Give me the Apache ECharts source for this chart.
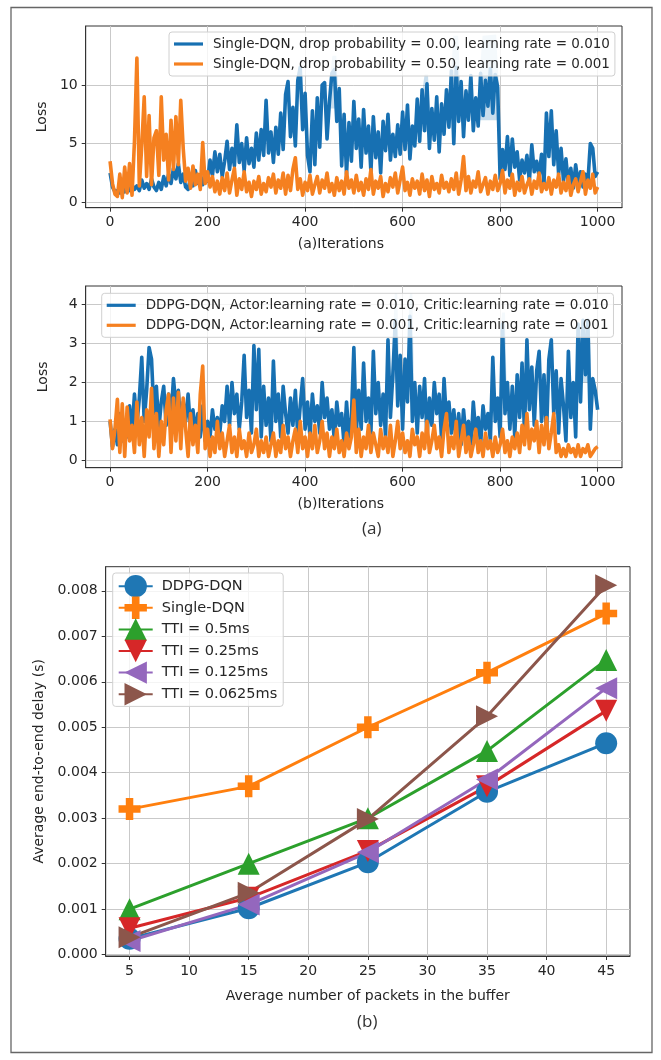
<!DOCTYPE html>
<html>
<head>
<meta charset="utf-8">
<script src="https://cdn.jsdelivr.net/npm/echarts@6/dist/echarts.min.js"></script>
<style>
html,body{margin:0;padding:0;background:#fff;}
#chart{width:661px;height:1060px;}
</style>
</head>
<body>
<div id="chart"></div>
<script>
// ---------- DATA ----------
const ITER_STEP = 5; // one stored sample every 5 iterations (0..1000)

const topNames = [
  'Single-DQN, drop probability = 0.00, learning rate = 0.010',
  'Single-DQN, drop probability = 0.50, learning rate = 0.001'
];
const topBlue = [
2.5,1.3,0.9,1.0,0.8,1.2,0.9,1.3,1.0,1.5,
1.1,1.4,1.0,1.9,1.2,1.6,1.1,2.0,1.3,1.0,
1.7,1.1,2.2,1.4,2.4,1.6,2.9,2.0,3.3,1.7,
2.4,1.3,1.1,2.1,1.4,2.7,1.6,2.2,1.5,2.6,
1.8,3.6,2.3,4.3,2.6,4.1,2.2,3.5,5.2,2.8,
4.6,3.1,6.6,3.4,5.0,2.7,5.5,3.3,4.6,3.0,
5.9,3.6,6.2,4.0,8.7,4.2,6.0,3.4,6.4,4.1,
7.6,4.5,9.2,10.3,5.6,8.1,4.8,10.4,11.5,6.2,
9.3,4.0,2.6,7.8,3.2,8.9,4.7,10.0,10.2,5.4,
8.6,11.0,11.3,6.9,9.7,3.1,7.5,2.4,6.8,3.5,
8.6,4.6,7.1,3.0,7.9,4.2,6.5,2.6,7.3,3.8,
6.0,2.5,6.9,4.4,7.5,3.6,5.8,3.9,6.6,4.1,
7.7,4.5,8.3,3.7,6.5,4.8,8.8,5.2,9.6,6.1,
10.1,4.6,8.0,5.3,9.0,4.3,8.4,5.8,9.6,6.4,
11.2,5.0,11.5,6.9,10.3,5.6,9.5,7.0,10.8,6.1,
8.9,6.5,11.0,7.4,10.4,8.2,11.4,7.6,10.9,9.8,
2.0,4.5,2.8,5.6,2.3,5.4,3.0,4.3,1.9,3.6,
2.5,4.0,1.8,4.9,2.6,3.5,2.2,4.1,1.6,7.6,
3.9,7.8,3.2,6.1,2.4,4.6,1.8,3.7,1.5,2.9,
1.2,3.2,1.6,2.6,1.3,2.4,1.7,5.0,4.6,2.2,
2.6
];
const topOrange = [
3.5,1.6,0.7,0.5,2.4,0.4,3.0,0.8,3.3,0.6,
5.2,12.3,1.4,4.8,9.0,2.2,7.4,1.5,5.5,6.1,
2.3,9.0,3.6,5.8,1.9,7.0,2.8,7.3,3.2,8.7,
4.6,1.8,2.9,1.2,3.1,1.5,2.4,1.1,5.1,1.6,
2.6,1.3,2.2,0.9,1.8,0.7,2.1,1.0,2.5,0.8,
1.9,2.9,0.6,2.0,1.1,2.6,0.9,1.7,0.5,1.8,
1.1,2.2,0.7,1.6,0.9,2.1,1.3,2.4,0.8,1.9,
1.2,2.5,0.7,2.3,1.0,2.8,3.8,1.1,2.0,0.6,
1.7,1.0,2.3,0.7,1.5,2.2,0.8,1.9,1.2,2.5,
0.9,1.6,0.6,2.1,1.0,1.8,0.7,2.6,1.2,1.9,
0.8,2.3,1.0,1.7,0.6,2.0,1.1,2.8,0.7,1.8,
1.2,2.2,0.5,1.6,0.9,2.1,1.3,2.5,0.8,1.9,
3.0,1.0,1.7,0.6,2.0,1.2,1.8,0.7,2.4,1.0,
1.9,0.5,2.2,1.1,1.6,0.8,2.3,1.2,1.7,0.9,
2.0,1.1,2.5,0.7,1.9,3.9,1.0,2.2,0.8,1.8,
1.3,2.6,0.9,1.5,2.1,0.7,1.8,1.1,2.3,1.0,
1.6,2.7,0.8,1.9,1.2,2.4,0.6,1.7,1.0,2.2,
0.8,1.5,2.0,0.7,1.8,1.2,2.5,0.9,1.6,1.1,
2.1,0.7,1.9,1.3,2.4,0.8,1.7,1.0,2.2,0.6,
1.5,2.0,0.9,1.8,2.6,0.7,1.9,1.2,2.4,0.8,
1.3
];
// light confidence band patches: [iteration, low, high]
const topBands = [
  [[452,8,11.0],[456,8,12.5],[464,8,12.5],[468,8,9.0]],
  [[641,6,9.6],[645,6,10.9],[652,6,10.9],[656,6,8.0]],
  [[700,7,11.2],[704,7,14.2],[714,7,14.2],[718,7,10.3]],
  [[758,7,11.0],[764,7,14.2],[792,7,14.3],[797,7,10.0]]
];

const midNames = [
  'DDPG-DQN, Actor:learning rate = 0.010, Critic:learning rate = 0.010',
  'DDPG-DQN, Actor:learning rate = 0.001, Critic:learning rate = 0.001'
];
const midBlue = [
1.0,0.35,0.8,0.4,1.2,0.5,1.0,0.6,1.4,0.7,
1.7,0.9,1.6,2.65,1.0,1.8,2.9,2.6,1.2,1.9,
0.8,1.5,1.9,0.9,1.7,1.1,2.1,1.4,1.8,0.9,
1.5,1.0,1.7,0.8,1.3,0.7,1.2,0.6,1.4,0.5,
1.0,0.6,1.3,0.8,1.1,0.7,1.4,1.0,1.9,0.9,
2.0,1.2,1.7,0.8,1.5,2.7,1.1,1.8,0.7,2.95,
1.3,2.85,0.6,1.9,0.9,1.6,0.5,2.55,1.0,1.7,
0.6,1.9,1.2,0.7,1.6,0.9,1.8,0.6,1.4,2.1,
0.8,1.5,0.6,1.7,1.0,1.4,0.7,2.0,1.1,1.6,
0.8,1.3,0.5,1.5,0.9,1.2,0.4,1.5,0.6,1.1,
2.9,0.7,1.8,0.8,2.5,1.0,1.6,0.7,2.8,1.2,
2.0,0.9,1.7,0.6,3.1,1.1,2.2,3.6,1.4,2.7,
0.8,2.6,1.5,3.7,1.0,2.0,0.7,1.9,1.1,2.1,
0.6,1.6,0.9,2.0,1.2,1.7,0.5,2.1,1.0,1.5,
0.7,1.3,0.5,1.2,0.4,1.3,0.6,1.0,0.3,1.5,
0.7,1.1,0.4,1.4,0.8,1.2,0.5,2.65,1.0,1.6,
0.6,3.5,1.2,2.0,0.8,1.9,0.6,2.2,1.1,2.5,
0.7,3.1,1.3,2.4,0.9,2.3,2.8,1.0,2.2,0.6,
2.6,3.1,1.2,2.3,0.7,2.1,1.4,0.5,2.8,1.1,
2.0,0.6,3.5,1.5,3.6,2.2,3.6,0.8,2.1,1.8,
1.3
];
const midOrange = [
1.05,0.3,0.8,1.57,0.2,1.45,0.1,1.37,0.5,0.9,
0.2,1.5,0.4,1.1,0.1,1.3,0.6,1.85,0.3,1.2,
0.1,1.0,0.4,1.3,1.7,0.2,1.6,0.5,1.75,0.3,
1.6,0.8,0.1,1.2,0.4,0.9,0.2,1.7,2.42,0.3,
0.8,0.1,0.6,0.2,1.0,0.3,0.7,0.1,0.5,0.9,
0.2,0.6,0.1,0.8,0.3,0.5,0.1,0.7,0.2,0.4,
0.8,0.1,0.5,0.2,0.6,0.1,0.4,0.7,0.1,0.5,
0.2,0.9,0.3,0.6,0.1,0.5,0.8,0.2,1.0,0.3,
0.6,0.1,0.7,0.3,0.9,0.2,0.5,1.0,0.3,0.7,
0.1,0.6,0.3,0.8,0.2,0.5,0.1,0.7,0.3,0.6,
1.55,0.2,0.8,0.1,0.6,0.3,0.9,0.2,0.7,0.4,
0.1,0.8,0.3,0.6,0.2,0.9,0.1,0.5,1.0,0.3,
0.7,0.2,0.5,0.1,0.8,0.4,0.6,0.1,0.7,0.3,
1.0,0.2,0.5,0.9,0.3,0.6,0.1,0.8,1.2,0.2,
0.6,0.3,1.0,0.1,0.5,0.9,0.2,0.6,0.1,0.4,
0.8,0.2,0.5,0.1,0.7,0.3,0.5,0.1,0.6,0.2,
0.4,0.8,0.2,0.5,0.1,0.6,0.3,0.7,0.2,0.9,
0.4,1.2,0.3,0.8,0.5,1.0,0.2,0.9,0.4,1.1,
0.3,0.7,1.2,0.2,0.4,0.1,0.3,0.1,0.4,0.2,
0.3,0.1,0.4,0.1,0.3,0.2,0.4,0.1,0.2,0.3,
0.35
];
const midBands = [
  [[581,2,3.4],[584,2,4.3],[589,2,4.3],[592,2,2.6]],
  [[612,2,3.6],[615,2,4.3],[620,2,4.3],[623,2,2.0]],
  [[801,2,3.4],[804,2,3.8],[810,2,3.8],[813,2,2.0]],
  [[958,2,3.3],[962,2,3.4],[984,2,3.4],[987,2,2.0]]
];

const iterTicks = [0, 200, 400, 600, 800, 1000];
const topLossTicks = [0, 5, 10];
const midLossTicks = [0, 1, 2, 3, 4];

const bufferSizes = [5, 15, 25, 35, 45];
const delayNames = ['DDPG-DQN', 'Single-DQN', 'TTI = 0.5ms', 'TTI = 0.25ms', 'TTI = 0.125ms', 'TTI = 0.0625ms'];
const delayDDPG    = [0.00035, 0.00102, 0.00203, 0.00358, 0.00465];
const delaySingle  = [0.0032, 0.0037, 0.0050, 0.0062, 0.0075];
const delayTTI05   = [0.0010, 0.0020, 0.0030, 0.00448, 0.00648];
const delayTTI025  = [0.00058, 0.00125, 0.00228, 0.0037, 0.00536];
const delayTTI0125 = [0.0003, 0.0011, 0.00225, 0.00385, 0.00586];
const delayTTI0625 = [0.00038, 0.00136, 0.00298, 0.00524, 0.00812];
const bufferTicks = [5, 10, 15, 20, 25, 30, 35, 40, 45];
const delayTicks = [0, 0.001, 0.002, 0.003, 0.004, 0.005, 0.006, 0.007, 0.008];
const delayTickLabels = ['0.000', '0.001', '0.002', '0.003', '0.004', '0.005', '0.006', '0.007', '0.008'];

// ---------- STYLE ----------
const FONT = 'DejaVu Sans';
const TXT = '#262626';
const C = { blue: '#1f77b4', orange: '#ff7f0e', green: '#2ca02c', red: '#d62728', purple: '#9467bd', brown: '#8c564b' };
const LBLUE = '#1770b2', LORANGE = '#f58020';
const LINE_ICON = 'path://M0,0 H29 V3.2 H0 Z';

const SYM = {
  plus: 'path://M3.3,0 H6.7 V3.3 H10 V6.7 H6.7 V10 H3.3 V6.7 H0 V3.3 H3.3 Z',
  down: 'path://M0,0 L10,0 L5,10 Z',
  left: 'path://M10,0 L10,10 L0,5 Z',
  right: 'path://M0,0 L10,5 L0,10 Z'
};

const pairs = arr => arr.map((v, i) => [i * ITER_STEP, v]);
const xyPairs = arr => arr.map((v, i) => [bufferSizes[i], v]);

const chart = echarts.init(document.getElementById('chart'), null, { renderer: 'canvas', width: 661, height: 1060 });

function gridCfg(left, top, right, height) {
  return { left: left, top: top, width: right - left, height: height, show: true, borderColor: '#333', borderWidth: 1, backgroundColor: 'transparent', containLabel: false };
}
function valueAxis(idx, min, max, ticks, labels, extra) {
  return Object.assign({
    type: 'value', gridIndex: idx, min: min, max: max,
    axisLine: { show: true, onZero: false, lineStyle: { color: '#333', width: 1 } },
    axisTick: { show: true, inside: false, length: 4, customValues: ticks, lineStyle: { color: '#333', width: 1 } },
    axisLabel: { show: true, customValues: ticks, color: TXT, fontFamily: FONT, fontSize: 14, margin: 8,
      formatter: labels ? (v) => { const k = ticks.findIndex(t => Math.abs(t - v) < 1e-9); return k >= 0 ? labels[k] : ''; } : (v) => String(v) },
    splitLine: { show: true, lineStyle: { color: '#c9c9c9', width: 1 } },
    nameTextStyle: { color: TXT, fontFamily: FONT, fontSize: 14 }
  }, extra || {});
}
function bandSeries(bands, axisIdx) {
  return {
    type: 'custom', xAxisIndex: axisIdx, yAxisIndex: axisIdx, silent: true, z: 1, clip: true,
    data: bands.map(b => [b[0][0], b[0][2]]),
    renderItem: function (params, api) {
      const b = bands[params.dataIndex];
      const pts = b.map(p => api.coord([p[0], p[2]])).concat(b.slice().reverse().map(p => api.coord([p[0], p[1]])));
      return { type: 'polygon', shape: { points: pts }, style: { fill: 'rgba(31,119,180,0.24)' } };
    }
  };
}
function lossLine(name, data, color, axisIdx) {
  return { type: 'line', name: name, data: pairs(data), xAxisIndex: axisIdx, yAxisIndex: axisIdx,
    symbol: 'none', showSymbol: false, color: color, z: 3,
    lineStyle: { color: color, width: 3.6, join: 'round' }, emphasis: { disabled: true } };
}
function delayLine(name, data, color, symbol, size) {
  return { type: 'line', name: name, data: xyPairs(data), xAxisIndex: 2, yAxisIndex: 2,
    symbol: symbol, symbolSize: size, showSymbol: true, color: color, z: 3,
    itemStyle: { color: color }, lineStyle: { color: color, width: 3 }, emphasis: { disabled: true } };
}
const legendBase = {
  orient: 'vertical', backgroundColor: 'rgba(255,255,255,0.8)', borderColor: '#d0d0d0', borderWidth: 1, borderRadius: 3,
  selectedMode: false, z: 10
};

const option = {
  animation: false,
  backgroundColor: '#fff',
  grid: [
    gridCfg(85.7, 26, 622, 181.7),
    gridCfg(85.7, 286, 622, 181.7),
    gridCfg(105.7, 566.7, 630, 389.3)
  ],
  xAxis: [
    valueAxis(0, -50, 1050, iterTicks, null, { name: '(a)Iterations', nameLocation: 'middle', nameGap: 30,
      nameTextStyle: { color: TXT, fontFamily: FONT, fontSize: 14, padding: [0, 26, 0, 0] } }),
    valueAxis(1, -50, 1050, iterTicks, null, { name: '(b)Iterations', nameLocation: 'middle', nameGap: 30,
      nameTextStyle: { color: TXT, fontFamily: FONT, fontSize: 14, padding: [0, 26, 0, 0] } }),
    valueAxis(2, 3, 47, bufferTicks, null, { name: 'Average number of packets in the buffer', nameLocation: 'middle', nameGap: 33 })
  ],
  yAxis: [
    valueAxis(0, -0.46, 15.03, topLossTicks, null, { name: 'Loss', nameLocation: 'middle', nameGap: 35 }),
    valueAxis(1, -0.19, 4.48, midLossTicks, null, { name: 'Loss', nameLocation: 'middle', nameGap: 35 }),
    valueAxis(2, -0.00003, 0.00853, delayTicks, delayTickLabels, { name: 'Average end-to-end delay (s)', nameLocation: 'middle', nameGap: 57 })
  ],
  legend: [
    Object.assign({}, legendBase, { data: topNames.map(n => ({ name: n, icon: LINE_ICON })), left: 169, top: 32, padding: [5, 5], itemGap: 6, itemWidth: 29, itemHeight: 14,
      textStyle: { color: TXT, fontFamily: FONT, fontSize: 13.5, padding: [0, 0, 0, 5] } }),
    Object.assign({}, legendBase, { data: midNames.map(n => ({ name: n, icon: LINE_ICON })), left: 101.7, top: 293.3, padding: [5, 5], itemGap: 6, itemWidth: 29, itemHeight: 14,
      textStyle: { color: TXT, fontFamily: FONT, fontSize: 13.5, padding: [0, 0, 0, 5] } }),
    Object.assign({}, legendBase, { data: delayNames, left: 112.7, top: 573, padding: [2, 6, 1, 5], itemGap: -0.8, itemWidth: 34, itemHeight: 28,
      textStyle: { color: TXT, fontFamily: FONT, fontSize: 14.5, padding: [0, 0, 0, 4] } })
  ],
  series: [
    bandSeries(topBands, 0),
    lossLine(topNames[0], topBlue, LBLUE, 0),
    lossLine(topNames[1], topOrange, LORANGE, 0),
    bandSeries(midBands, 1),
    lossLine(midNames[0], midBlue, LBLUE, 1),
    lossLine(midNames[1], midOrange, LORANGE, 1),
    delayLine(delayNames[0], delayDDPG, C.blue, 'circle', 22),
    delayLine(delayNames[1], delaySingle, C.orange, SYM.plus, 22),
    delayLine(delayNames[2], delayTTI05, C.green, 'triangle', 22),
    delayLine(delayNames[3], delayTTI025, C.red, SYM.down, 22),
    delayLine(delayNames[4], delayTTI0125, C.purple, SYM.left, 22),
    delayLine(delayNames[5], delayTTI0625, C.brown, SYM.right, 22)
  ],
  graphic: [
    { type: 'rect', shape: { x: 11, y: 7.5, width: 641, height: 1045 }, style: { fill: 'none', stroke: '#666', lineWidth: 1.3 }, z: 0, silent: true },
    { type: 'text', left: 362, top: 521, style: { text: '(a)', font: '17px "Open Sans"', fill: '#333' }, silent: true },
    { type: 'text', left: 357, top: 1014, style: { text: '(b)', font: '17px "Open Sans"', fill: '#333' }, silent: true }
  ]
};
chart.setOption(option);
</script>
</body>
</html>
